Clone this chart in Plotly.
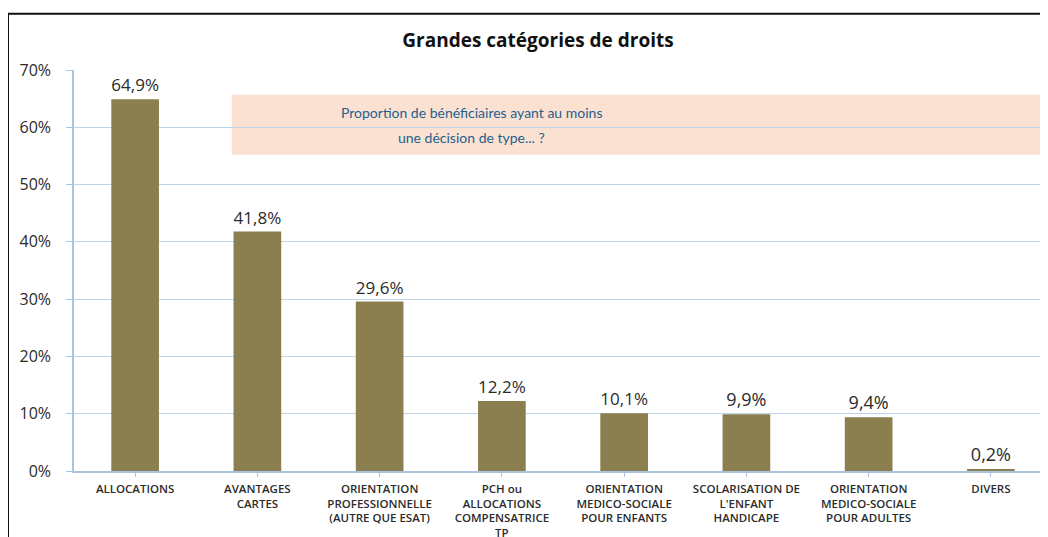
import plotly.graph_objects as go

# ── Data ───────────────────────────────────────────────────────────────────
CATEGORIES = [
    "ALLOCATIONS",
    "AVANTAGES<br>CARTES",
    "ORIENTATION<br>PROFESSIONNELLE<br>(AUTRE QUE ESAT)",
    "PCH ou<br>ALLOCATIONS<br>COMPENSATRICE<br>TP",
    "ORIENTATION<br>MEDICO-SOCIALE<br>POUR ENFANTS",
    "SCOLARISATION DE<br>L'ENFANT<br>HANDICAPE",
    "ORIENTATION<br>MEDICO-SOCIALE<br>POUR ADULTES",
    "DIVERS",
]
SHARES = [64.9, 41.8, 29.6, 12.2, 10.1, 9.9, 9.4, 0.2]
Y_TICKS = [0, 10, 20, 30, 40, 50, 60, 70]
Y_TICK_LABELS = [f"{v}%" for v in Y_TICKS]

TITLE = "Grandes catégories de droits"
CALLOUT_LINES = ["Proportion de bénéficiaires ayant au moins", "une décision de type... ?"]

# ── Style ──────────────────────────────────────────────────────────────────
BAR_COLOUR = "#8b7f50"
GRID_COLOUR = "#bcd5ea"
AXIS_COLOUR = "#a9c4dc"
TEXT_COLOUR = "#2b2b2b"
CALLOUT_FILL = "#fbe1d2"
CALLOUT_TEXT = "#1f5f8e"

fig = go.Figure(
    go.Bar(
        x=list(range(len(CATEGORIES))),
        y=SHARES,
        width=0.39,
        marker=dict(color=BAR_COLOUR, line=dict(width=0)),
        texttemplate="%{y:.1f}%",
        textposition="outside",
        textfont=dict(family="Open Sans", size=18, color=TEXT_COLOUR),
        cliponaxis=False,
    )
)

# callout box behind the gridlines
fig.add_shape(
    type="rect", xref="paper", yref="y",
    x0=0.162, x1=1.02, y0=55.2, y1=65.7,
    fillcolor=CALLOUT_FILL, line=dict(width=0), layer="below",
)
for line, yv in zip(CALLOUT_LINES, [62.5, 58.3]):
    fig.add_annotation(
        xref="paper", yref="y", x=0.4086, y=yv,
        text=line, showarrow=False, align="center",
        font=dict(family="Lato", size=14, color=CALLOUT_TEXT),
    )

# frame around the chart
fig.add_shape(
    type="rect", xref="paper", yref="paper",
    x0=-66 / 974, x1=1.02, y0=-0.2, y1=1.14,
    line=dict(color="#111111", width=2), fillcolor="rgba(0,0,0,0)",
)

fig.update_layout(
    width=1040,
    height=529,
    separators=", ",
    paper_bgcolor="white",
    plot_bgcolor="white",
    showlegend=False,
    margin=dict(l=66, r=0, t=62, b=66),
    title=dict(
        text=f"<b>{TITLE}</b>", x=530 / 1040, xanchor="center",
        y=1 - 32 / 529, yanchor="middle",
        font=dict(family="Open Sans", size=19, color="#111111"),
    ),
    xaxis=dict(
        range=[-0.5, 7.467],
        automargin=False,
        tickmode="array",
        tickvals=list(range(len(CATEGORIES))),
        ticktext=CATEGORIES,
        tickson="boundaries",
        ticks="outside",
        ticklen=4,
        tickcolor=AXIS_COLOUR,
        showline=True,
        linecolor=AXIS_COLOUR,
        linewidth=1.5,
        showgrid=False,
        tickangle=0,
        ticklabelstandoff=2,
        tickfont=dict(family="Open Sans", size=11.5, color=TEXT_COLOUR, weight=600),
    ),
    yaxis=dict(
        range=[0, 70],
        automargin=False,
        tickmode="array",
        tickvals=Y_TICKS,
        ticktext=Y_TICK_LABELS,
        showgrid=True,
        gridcolor=GRID_COLOUR,
        gridwidth=1,
        showline=True,
        linecolor=AXIS_COLOUR,
        linewidth=1.5,
        ticks="outside",
        ticklen=6,
        tickcolor=AXIS_COLOUR,
        ticklabelstandoff=12,
        zeroline=False,
        tickfont=dict(family="Open Sans", size=16, color=TEXT_COLOUR),
    ),
)

fig.write_html("out.html")
